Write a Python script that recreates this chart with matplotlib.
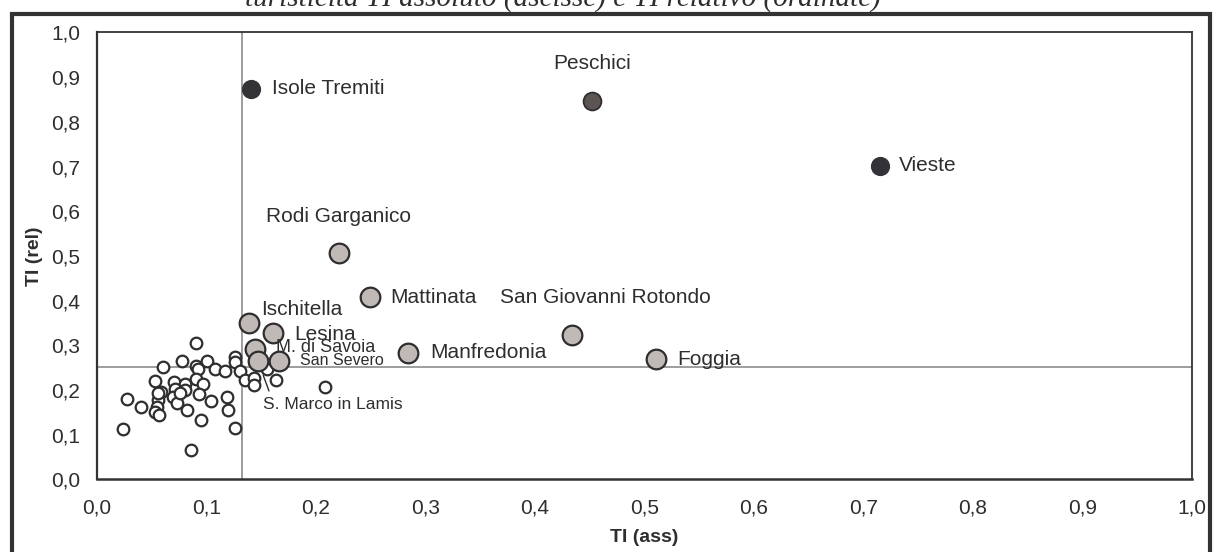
import matplotlib
matplotlib.use("Agg")
import matplotlib.pyplot as plt
from matplotlib.patches import Rectangle

plt.rcParams['font.family'] = ['Liberation Sans', 'DejaVu Sans']

# comuni con etichetta: TI assoluto (x), TI relativo (y)
names = ['Isole Tremiti', 'Peschici', 'Vieste', 'Rodi Garganico', 'Mattinata',
         'San Giovanni Rotondo', 'Ischitella', 'Lesina', 'M. di Savoia',
         'San Severo', 'Manfredonia', 'Foggia', 'S. Marco in Lamis']
ti_ass = [0.141, 0.452, 0.715, 0.221, 0.249, 0.434, 0.139, 0.161, 0.144,
          0.166, 0.284, 0.510, 0.147]
ti_rel = [0.874, 0.847, 0.702, 0.507, 0.408, 0.323, 0.350, 0.327, 0.291,
          0.265, 0.283, 0.269, 0.265]
group = ['alto', 'medio', 'alto', 'basso', 'basso', 'basso', 'basso', 'basso',
         'basso', 'basso', 'basso', 'basso', 'basso']

# altri comuni (senza etichetta)
other_ass = [0.090, 0.060, 0.078, 0.090, 0.092, 0.100, 0.108, 0.117, 0.053,
             0.070, 0.080, 0.090, 0.097, 0.058, 0.071, 0.080, 0.056, 0.069,
             0.093, 0.104, 0.027, 0.040, 0.055, 0.053, 0.057, 0.073, 0.082,
             0.095, 0.024, 0.086, 0.119, 0.120, 0.076, 0.056, 0.126, 0.126,
             0.131, 0.135, 0.143, 0.143, 0.155, 0.163, 0.208, 0.126]
other_rel = [0.306, 0.252, 0.265, 0.254, 0.247, 0.265, 0.246, 0.243, 0.221,
             0.219, 0.213, 0.224, 0.213, 0.196, 0.202, 0.200, 0.178, 0.185,
             0.190, 0.175, 0.179, 0.163, 0.163, 0.151, 0.144, 0.172, 0.155,
             0.133, 0.113, 0.066, 0.185, 0.155, 0.194, 0.193, 0.273, 0.263,
             0.243, 0.222, 0.226, 0.211, 0.246, 0.222, 0.207, 0.114]

soglia_ass = 0.132
soglia_rel = 0.252

fig = plt.figure(figsize=(12.14, 5.52), dpi=100)
ax = fig.add_axes([0.0799, 0.1315, 0.9021, 0.8098])

ax.axvline(soglia_ass, color='#8c8c8c', lw=1.2, zorder=1)
ax.axhline(soglia_rel, color='#8c8c8c', lw=1.2, zorder=1)

ax.scatter(other_ass, other_rel, s=70, facecolor='white', edgecolor='#2e2e30',
           linewidth=1.6, zorder=2)

style = {'alto': dict(s=165, facecolor='#333236', edgecolor='#333236', linewidth=1),
         'medio': dict(s=165, facecolor='#5c5553', edgecolor='#2e2e30', linewidth=1.3),
         'basso': dict(s=200, facecolor='#c1b9b6', edgecolor='#2e2e30', linewidth=1.6)}
for x, y, g in zip(ti_ass, ti_rel, group):
    ax.scatter([x], [y], zorder=3, **style[g])

# label offsets in pixels
offs = {'Isole Tremiti': (21, 0, 'left', 15), 'Peschici': (0, 37, 'center', 15),
        'Vieste': (19, 0, 'left', 15), 'Rodi Garganico': (-73, 36, 'left', 15),
        'Mattinata': (21, 0, 'left', 15), 'San Giovanni Rotondo': (-72, 38, 'left', 15),
        'Ischitella': (12, 13, 'left', 15), 'Lesina': (21, -1, 'left', 15),
        'M. di Savoia': (21, 2, 'left', 13), 'San Severo': (21, 0, 'left', 11.5),
        'Manfredonia': (22, 0, 'left', 15), 'Foggia': (22, 0, 'left', 15),
        'S. Marco in Lamis': (5, -44, 'left', 12.5)}
for n, x, y in zip(names, ti_ass, ti_rel):
    dx, dy, ha, fs = offs[n]
    ax.annotate(n, (x, y), xytext=(dx, dy), textcoords='offset pixels',
                ha=ha, va='center', fontsize=fs, color='#2e2e30', zorder=4)

i = names.index('S. Marco in Lamis')
ax.annotate('', (ti_ass[i], ti_rel[i]), xytext=(11, -30), textcoords='offset pixels',
            arrowprops=dict(arrowstyle='-', color='#2e2e30', lw=1.0,
                            shrinkA=0, shrinkB=11))

ax.set_xlim(0, 1)
ax.set_ylim(0, 1)
ticks = [i / 10 for i in range(11)]
ax.set_xticks(ticks)
ax.set_yticks(ticks)
ax.set_xticklabels([f'{t:.1f}'.replace('.', ',') for t in ticks])
ax.set_yticklabels([f'{t:.1f}'.replace('.', ',') for t in ticks])
ax.tick_params(length=0, labelsize=15, colors='#2e2e30')
ax.tick_params(axis='x', pad=14)
ax.tick_params(axis='y', pad=12)
for sp in ax.spines.values():
    sp.set_color('#333333')
    sp.set_linewidth(1.3)
ax.spines['bottom'].set_linewidth(1.8)
ax.spines['left'].set_linewidth(1.6)

ax.set_xlabel('TI (ass)', fontsize=14, fontweight='bold', color='#2e2e30', labelpad=8)
ax.set_ylabel('TI (rel)', fontsize=14, fontweight='bold', color='#2e2e30', labelpad=6)

# cornice esterna e didascalia tagliata in alto
fig.patches.append(Rectangle((11.5 / 1214, -0.05), 1198.5 / 1214, 1.05 - 14 / 552,
                             transform=fig.transFigure, fill=False,
                             edgecolor='#333333', linewidth=3))
fig.text(563 / 1214, 1 - 6 / 552,
         'turisticità TI assoluto (ascisse) e TI relativo (ordinate)',
         ha='center', va='baseline', fontsize=21, style='italic',
         family=['Liberation Serif', 'DejaVu Serif'], color='#2e2e30')

fig.savefig('out.png', dpi=100)
